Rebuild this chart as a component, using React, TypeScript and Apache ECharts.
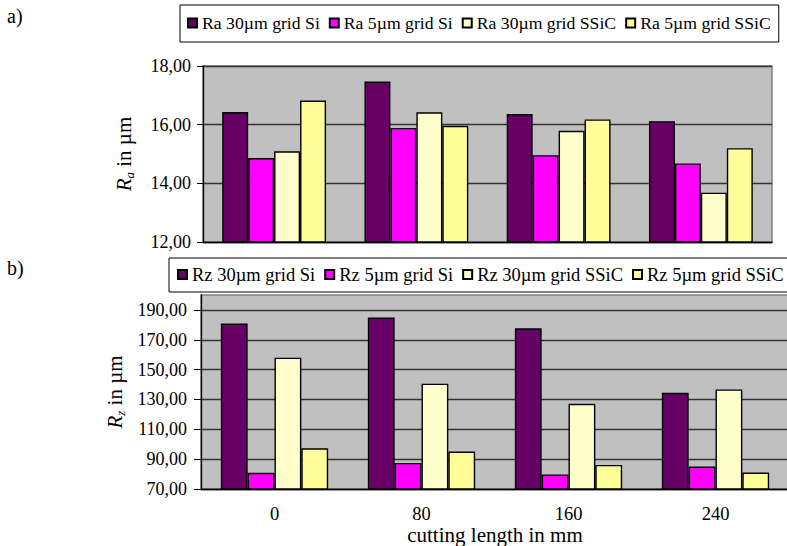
import React, { useEffect, useRef } from "react";
import * as echarts from "echarts";

const categories = ["0", "80", "160", "240"];

const raNames = ["Ra 30µm grid Si", "Ra 5µm grid Si", "Ra 30µm grid SSiC", "Ra 5µm grid SSiC"];
const ra30Si = [16.43, 17.47, 16.36, 16.12];
const ra5Si = [14.86, 15.89, 14.96, 14.68];
const ra30SSiC = [15.09, 16.42, 15.79, 13.68];
const ra5SSiC = [16.82, 15.96, 16.18, 15.2];

const rzNames = ["Rz 30µm grid Si", "Rz 5µm grid Si", "Rz 30µm grid SSiC", "Rz 5µm grid SSiC"];
const rz30Si = [180.9, 184.9, 177.7, 134.5];
const rz5Si = [80.9, 87.5, 79.8, 85.0];
const rz30SSiC = [158.0, 140.6, 127.1, 136.7];
const rz5SSiC = [97.3, 95.1, 86.1, 81.0];

const raMin = 12;
const raMax = 18;
const raInterval = 2;
const rzMin = 70;
const rzMax = 200;
const rzTickValues = [70, 90, 110, 130, 150, 170, 190];

const colors = ["#660066", "#ff00ff", "#ffffcc", "#ffff99"];
const FONT = "Liberation Serif";

const fmt = (v: number) => v.toFixed(2).replace(".", ",");

export default function App() {
  const ref = useRef<HTMLDivElement>(null);
  useEffect(() => {
    if (!ref.current) return;
    const chart = echarts.init(ref.current, null, { renderer: "svg" });
    const raData = [ra30Si, ra5Si, ra30SSiC, ra5SSiC];
    const rzData = [rz30Si, rz5Si, rz30SSiC, rz5SSiC];
    const mkSeries = (names: string[], data: number[][], idx: number) =>
      names.map((n, i) => ({
        name: n,
        type: "bar",
        xAxisIndex: idx,
        yAxisIndex: idx,
        data: data[i],
        barGap: "0%",
        barCategoryGap: "27%",
        itemStyle: { color: colors[i], borderColor: "#000", borderWidth: 1.4 },
      }));
    const legendBase = {
      orient: "horizontal",
      borderColor: "#000",
      borderWidth: 1,
      itemWidth: 9,
      itemHeight: 9,
      itemGap: 9,
      icon: "rect",
      backgroundColor: "#fff",
      width: 700,
    };
    const nameRich = {
      it: { fontStyle: "italic", fontSize: 21, fontFamily: FONT, color: "#000" },
      sub: { fontStyle: "italic", fontSize: 13, fontFamily: FONT, color: "#000", verticalAlign: "top", padding: [11, 0, 0, 0] },
    };
    chart.setOption({
      animation: false,
      backgroundColor: "#fff",
      textStyle: { fontFamily: FONT },
      graphic: [
        { type: "text", left: 7, top: 6, style: { text: "a)", fontFamily: FONT, fontSize: 20, fill: "#000" } },
        { type: "text", left: 7, top: 258, style: { text: "b)", fontFamily: FONT, fontSize: 20, fill: "#000" } },
      ],
      legend: [
        {
          ...legendBase,
          data: raNames,
          left: 180,
          top: 5,
          padding: [9, 8, 10, 7],
          textStyle: { fontFamily: FONT, fontSize: 17.7, color: "#000" },
        },
        {
          ...legendBase,
          data: rzNames,
          left: 169,
          top: 258,
          padding: [7, 8, 8, 8],
          textStyle: { fontFamily: FONT, fontSize: 18.5, color: "#000" },
        },
      ],
      grid: [
        { left: 203, top: 66, width: 569, height: 176, outerBoundsMode: "none", containLabel: false, show: true, backgroundColor: "#c0c0c0", borderColor: "#808080", borderWidth: 1.5 },
        { left: 201, top: 295, width: 588, height: 194, outerBoundsMode: "none", containLabel: false, show: true, backgroundColor: "#c0c0c0", borderColor: "#808080", borderWidth: 1.5 },
      ],
      xAxis: [
        {
          type: "category",
          gridIndex: 0,
          data: categories,
          axisLine: { lineStyle: { color: "#000", width: 1.3 } },
          axisTick: { length: 6, lineStyle: { color: "#000" } },
          axisLabel: { show: false },
        },
        {
          type: "category",
          gridIndex: 1,
          data: categories,
          name: "cutting length in mm",
          nameLocation: "middle",
          nameGap: 35,
          nameMoveOverlap: false,
          nameTextStyle: { fontFamily: FONT, fontSize: 21, color: "#000" },
          axisLine: { lineStyle: { color: "#000", width: 1.3 } },
          axisTick: { length: 7, lineStyle: { color: "#000" } },
          axisLabel: { fontFamily: FONT, fontSize: 18.5, color: "#000", margin: 15 },
        },
      ],
      yAxis: [
        {
          type: "value",
          gridIndex: 0,
          min: raMin,
          max: raMax,
          interval: raInterval,
          name: "{it|R}{sub|a} in µm",
          nameLocation: "middle",
          nameGap: 67,
          nameTextStyle: { fontFamily: FONT, fontSize: 21, color: "#000", rich: nameRich },
          axisLine: { show: true, lineStyle: { color: "#000", width: 1.3 } },
          axisTick: { show: true, length: 6, lineStyle: { color: "#000" } },
          axisLabel: { fontFamily: FONT, fontSize: 18, color: "#000", margin: 12, formatter: fmt },
          splitLine: { lineStyle: { color: "#333", width: 1.3 } },
        },
        {
          type: "value",
          gridIndex: 1,
          min: rzMin,
          max: rzMax,
          name: "{it|R}{sub|z} in µm",
          nameLocation: "middle",
          nameGap: 72,
          nameTextStyle: { fontFamily: FONT, fontSize: 21, color: "#000", rich: nameRich },
          axisLine: { show: true, lineStyle: { color: "#000", width: 1.3 } },
          axisTick: { show: true, length: 7, lineStyle: { color: "#000" }, customValues: rzTickValues },
          axisLabel: { fontFamily: FONT, fontSize: 18, color: "#000", margin: 14, formatter: fmt, customValues: rzTickValues },
          splitLine: { lineStyle: { color: "#333", width: 1.3 } },
        },
      ],
      series: [...mkSeries(raNames, raData, 0), ...mkSeries(rzNames, rzData, 1)],
    });
    return () => chart.dispose();
  }, []);
  return (
    <div
      ref={ref}
      style={{ position: "fixed", left: 0, top: 0, width: 787, height: 546, background: "#fff" }}
    />
  );
}
